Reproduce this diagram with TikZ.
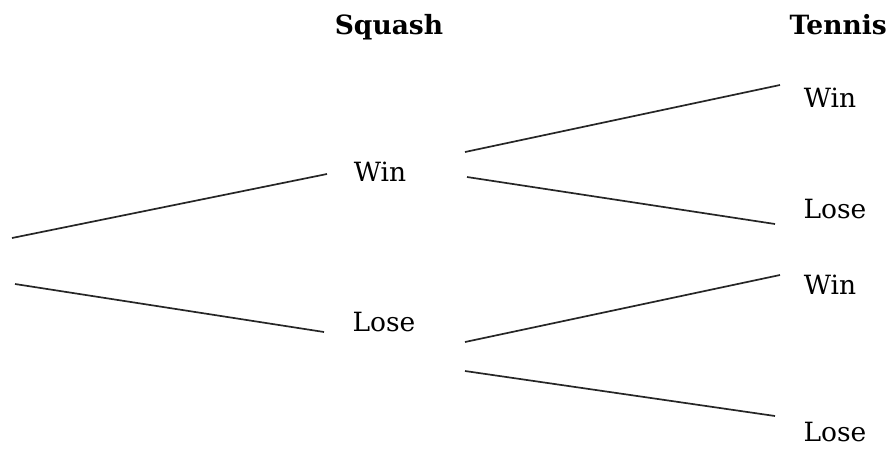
\documentclass[tikz,border=0pt]{standalone}
\usepackage{fontspec}
\setmainfont{DejaVu Serif}
\begin{document}
\begin{tikzpicture}[x=1pt,y=-1pt,
  lbl/.style={inner sep=0pt,font=\fontsize{26.5}{30}\selectfont},
  hdr/.style={inner sep=0pt,anchor=base,font=\fontsize{26.5}{30}\selectfont\bfseries},
  br/.style={line width=1.7pt,draw=black!85}]
\useasboundingbox (0,0) rectangle (892,451);
\node[hdr] (sq) at (389,34) {Squash};
\node[hdr,anchor=base east] (te) at (887,34) {Tennis};
\coordinate (r1) at (12,238);
\coordinate (r2) at (15,284);
\node[lbl] (w) at (380,172) {Win};
\node[lbl] (l) at (384,322) {Lose};
\coordinate (w1) at (327,174);
\coordinate (l1) at (324,332);
\coordinate (wa) at (465,152);
\coordinate (wb) at (467,177);
\coordinate (la) at (465,342);
\coordinate (lb) at (465,371);
\coordinate (wwe) at (780,85);
\coordinate (wle) at (775,224);
\coordinate (lwe) at (780,275);
\coordinate (lle) at (775,416);
\node[lbl] (ww) at (830,98) {Win};
\node[lbl] (wl) at (835,209) {Lose};
\node[lbl] (lw) at (830,285) {Win};
\node[lbl] (ll) at (835,432) {Lose};
\draw[br] (r1) -- (w1);
\draw[br] (r2) -- (l1);
\draw[br] (wa) -- (wwe);
\draw[br] (wb) -- (wle);
\draw[br] (la) -- (lwe);
\draw[br] (lb) -- (lle);
\end{tikzpicture}
\end{document}
